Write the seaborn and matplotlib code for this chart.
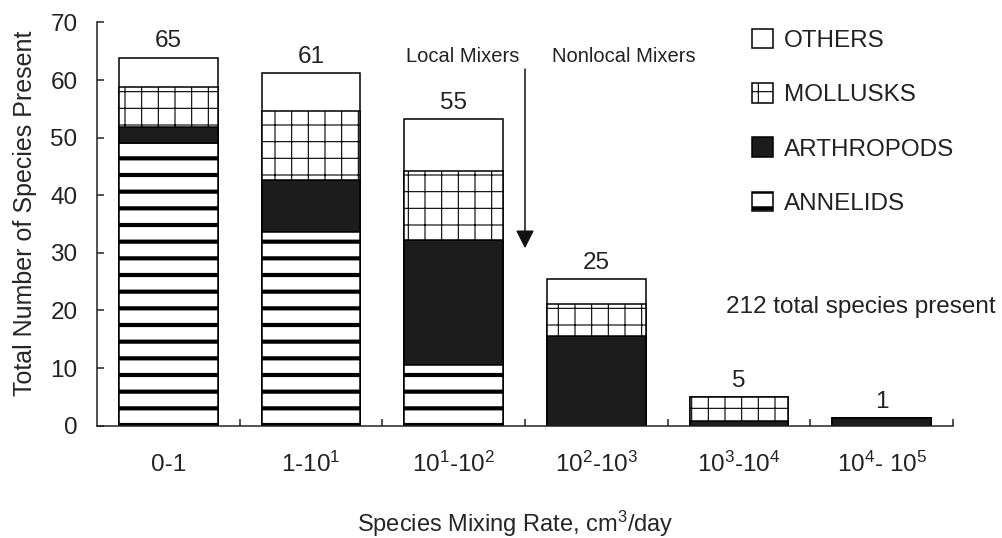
import numpy as np
import matplotlib
matplotlib.use('Agg')
import matplotlib.pyplot as plt
from matplotlib.patches import Patch
import seaborn as sns

# data (bottom -> top of each stack)
categories = ['0-1', '1-10$^1$', '10$^1$-10$^2$', '10$^2$-10$^3$',
              '10$^3$-10$^4$', '10$^4$- 10$^5$']
annelids = [49.1, 33.7, 10.5, 0, 0, 0]
arthropods = [2.8, 8.9, 21.7, 15.6, 0.8, 1.3]
mollusks = [6.9, 12.1, 12.0, 5.5, 4.1, 0]
others = [5.1, 6.5, 9.0, 4.3, 0, 0]
reported_totals = [65, 61, 55, 25, 5, 1]

group_names = ['ANNELIDS', 'ARTHROPODS', 'MOLLUSKS', 'OTHERS']
group_faces = ['white', '#1c1c1c', 'white', 'white']
group_hatches = ['-', '', '+', '']
group_hatch_lw = [3.0, 1.0, 0.8, 1.0]

sns.set_style('ticks')
plt.rcParams['font.family'] = ['Liberation Sans', 'DejaVu Sans']
plt.rcParams['mathtext.fontset'] = 'custom'
plt.rcParams['mathtext.rm'] = 'Liberation Sans'
plt.rcParams['mathtext.it'] = 'Liberation Sans:italic'
plt.rcParams['mathtext.bf'] = 'Liberation Sans:bold'
plt.rcParams['text.color'] = '#222222'

fs = 17.5

fig = plt.figure(figsize=(10.02, 5.38), dpi=100)
ax = fig.add_axes([0.0968, 0.2089, 0.8543, 0.7494])

stack = np.array([annelids, arthropods, mollusks, others])
cum = stack.cumsum(axis=0)

# stacked look: draw cumulative heights, tallest layer first
for i in [3, 2, 1, 0]:
    with plt.rc_context({'hatch.linewidth': group_hatch_lw[i]}):
        sns.barplot(x=categories, y=cum[i], order=categories,
                    color=group_faces[i], hatch=group_hatches[i],
                    edgecolor='black', linewidth=1.1, width=0.69,
                    saturation=1, errorbar=None, ax=ax)
    for p in ax.containers[-1]:
        if hasattr(p, 'set_hatch_linewidth'):
            p.set_hatch_linewidth(group_hatch_lw[i])

ax.bar_label(ax.containers[0], labels=[str(v) for v in reported_totals],
             padding=4, fontsize=fs)

ax.set_xlim(-0.5, 5.5)
ax.set_ylim(0, 70)
ax.set_yticks(range(0, 71, 10))
ax.set_xticks(range(len(categories)), labels=categories)
ax.set_xticks(np.arange(0.5, 5.6, 1), minor=True)
ax.tick_params(axis='y', direction='in', length=5, width=1.1, pad=14,
               labelsize=fs, colors='#222222')
ax.tick_params(axis='x', which='major', length=0, pad=33, labelsize=fs,
               colors='#222222')
ax.tick_params(axis='x', which='minor', direction='in', length=5, width=1.1,
               colors='#222222')
for lab in ax.get_xticklabels():
    lab.set_va('baseline')

sns.despine(ax=ax)
for s in ['left', 'bottom']:
    ax.spines[s].set_linewidth(1.1)
    ax.spines[s].set_color('#222222')

ax.set_xlabel('Species Mixing Rate, cm$^3$/day', fontsize=17)
ax.xaxis.set_label_coords(0.489, -0.264)
ax.xaxis.label.set_va('baseline')
ax.set_ylabel('Total Number of Species Present', fontsize=18)
ax.yaxis.set_label_coords(-0.084, 0.526)
ax.yaxis.label.set_va('center')

ax.text(2.46, 63.1, 'Local Mixers', fontsize=14.5, ha='right', va='baseline')
ax.text(2.69, 63.1, 'Nonlocal Mixers', fontsize=14.5, ha='left', va='baseline')
ax.annotate('', xy=(2.5, 30.8), xytext=(2.5, 61.9),
            arrowprops=dict(arrowstyle='-|>,head_length=0.55,head_width=0.28',
                            color='#111111', lw=1.1, mutation_scale=20,
                            shrinkA=0, shrinkB=0))
ax.text(3.91, 19.5, '212 total species present', fontsize=fs, ha='left',
        va='baseline', clip_on=False)

handles = [Patch(facecolor=group_faces[i], edgecolor='black', hatch=group_hatches[i],
                 linewidth=1.1, label=group_names[i]) for i in [3, 2, 1, 0]]
leg = fig.legend(handles=handles, loc='upper left', bbox_to_anchor=(0.750, 0.946),
                 frameon=False, fontsize=fs, handlelength=0.9, handleheight=0.85,
                 handletextpad=0.45, labelspacing=1.28, borderpad=0, borderaxespad=0)
for p, i in zip(leg.get_patches(), [3, 2, 1, 0]):
    if hasattr(p, 'set_hatch_linewidth'):
        p.set_hatch_linewidth(group_hatch_lw[i])

fig.savefig('out.png', dpi=100)
